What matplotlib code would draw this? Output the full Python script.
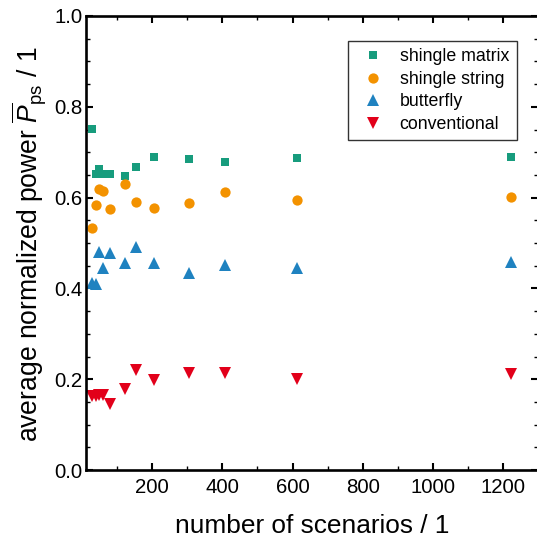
import numpy as np
import matplotlib
matplotlib.use('Agg')
import matplotlib.pyplot as plt
from matplotlib.ticker import MultipleLocator

plt.rcParams['font.family'] = ['Liberation Sans', 'DejaVu Sans']
plt.rcParams['mathtext.fontset'] = 'custom'
plt.rcParams['mathtext.rm'] = 'Liberation Sans'
plt.rcParams['mathtext.it'] = 'Liberation Sans:italic'

# number of scenarios (x) and average normalized power per layout
scenarios = [27, 40, 48, 60, 81, 122, 153, 204, 306, 408, 612, 1224]
shingle_matrix = [0.751, 0.653, 0.664, 0.651, 0.652, 0.648, 0.668, 0.690, 0.686, 0.678, 0.687, 0.690]
shingle_string = [0.533, 0.584, 0.620, 0.615, 0.574, 0.631, 0.590, 0.576, 0.589, 0.613, 0.594, 0.601]
butterfly = [0.411, 0.410, 0.480, 0.444, 0.477, 0.457, 0.492, 0.457, 0.433, 0.452, 0.445, 0.458]
conventional = [0.163, 0.162, 0.166, 0.165, 0.145, 0.178, 0.220, 0.199, 0.213, 0.213, 0.200, 0.211]

series = [
    ('shingle matrix', shingle_matrix, 's', '#179c7d', 6.0),
    ('shingle string', shingle_string, 'o', '#f39200', 7.4),
    ('butterfly', butterfly, '^', '#1f82c0', 8.4),
    ('conventional', conventional, 'v', '#e2001a', 8.4),
]

fig = plt.figure(figsize=(5.37, 5.40), dpi=100)
ax = fig.add_axes([85.6 / 537, 70 / 540, (538 - 85.6) / 537, 454 / 540])

for name, vals, mk, col, ms in series:
    ax.plot(scenarios, vals, linestyle='none', marker=mk, color=col,
            markersize=ms, markeredgewidth=0, label=name)

ax.set_xlim(10, 1300)
ax.set_ylim(0, 1.0)
ax.xaxis.set_major_locator(MultipleLocator(200))
ax.xaxis.set_minor_locator(MultipleLocator(100))
ax.yaxis.set_major_locator(MultipleLocator(0.2))
ax.yaxis.set_minor_locator(MultipleLocator(0.05))
ax.set_xticks([200, 400, 600, 800, 1000, 1200])
ax.yaxis.set_major_formatter(matplotlib.ticker.FormatStrFormatter('%.1f'))

ax.tick_params(which='both', direction='in', top=True, right=True,
               labelsize=14.7)
ax.tick_params(which='major', length=4.8, width=1.5)
ax.tick_params(which='minor', length=2.6, width=1.0)
ax.tick_params(axis='x', pad=6)
ax.tick_params(axis='y', pad=2)
for sp in ax.spines.values():
    sp.set_linewidth(1.9)

ax.set_xlabel('number of scenarios / 1', fontsize=18.9, labelpad=12)
ax.set_ylabel(r'average normalized power $\overline{P}_\mathrm{ps}$ / 1',
              fontsize=19.1)
ax.yaxis.set_label_coords(-38 / 452.4, 0.497)

leg = ax.legend(loc='upper right', bbox_to_anchor=(516.5 / 537, 499 / 540),
                bbox_transform=fig.transFigure, fontsize=12.8, frameon=True,
                fancybox=False, borderpad=0.42, labelspacing=0.31,
                handletextpad=0.5, borderaxespad=0, numpoints=1)
leg.get_frame().set_edgecolor('black')
leg.get_frame().set_linewidth(1.0)

fig.savefig('out.png', dpi=100)
